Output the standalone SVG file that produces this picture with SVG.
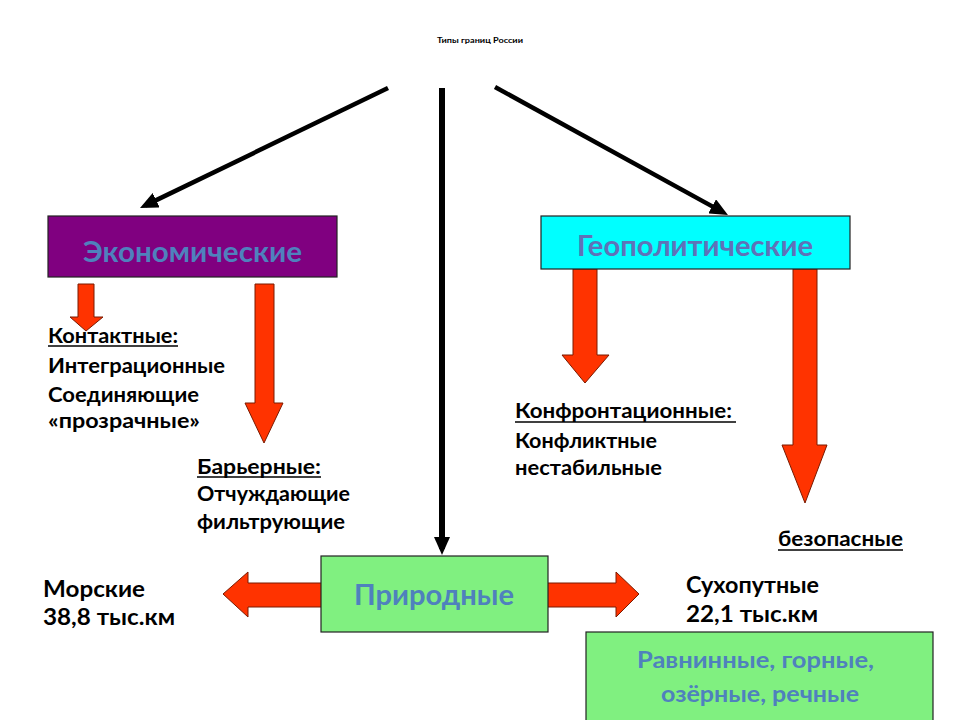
<svg xmlns="http://www.w3.org/2000/svg" width="960" height="720" viewBox="0 0 960 720">
<defs>
<marker id="ah" viewBox="0 0 18 16" refX="12" refY="8" markerWidth="18" markerHeight="16" markerUnits="userSpaceOnUse" orient="auto">
<path d="M0,0 L18,8 L0,16 z" fill="#000"/>
</marker>
</defs>
<style>
text{font-family:Lato,"Liberation Sans","Noto Sans",sans-serif;font-weight:bold}
.t{font-size:20px;fill:#000}
.m{font-size:22px;fill:#000}
.big{font-size:28px;fill:#4F81BD;text-anchor:middle}
.sub{font-size:22px;fill:#4F81BD;text-anchor:middle}
.box{stroke:#222;stroke-width:1.2}
.red{fill:#FF3300;stroke:#7a1a00;stroke-width:1}
.ul{stroke:#000;stroke-width:1.6}
.con{stroke:#000;fill:none;marker-end:url(#ah)}
</style>
<rect width="960" height="720" fill="#fff"/>
<text x="480" y="43" font-size="8" text-anchor="middle" textLength="86" lengthAdjust="spacingAndGlyphs">Типы границ России</text>
<g id="connectors">
<line class="con" x1="388" y1="88" x2="145.4" y2="205.4" stroke-width="4.5"/>
<line class="con" x1="442" y1="88" x2="442" y2="549" stroke-width="6"/>
<line class="con" x1="495" y1="87" x2="722.7" y2="212.1" stroke-width="4.5"/>
<polygon class="red" points="78,284 94,284 94,317 103,317 86,331 70,317 78,317"/>
<polygon class="red" points="255,284 274,284 274,403 283,403 264,443 245,403 255,403"/>
<polygon class="red" points="573,269 597,269 597,355 609,355 585,383 562,355 573,355"/>
<polygon class="red" points="793,269 817,269 817,445 827,445 805,503 782,445 793,445"/>
<polygon class="red" points="322,583 248,583 248,572 223,594 248,617 248,607 322,607"/>
<polygon class="red" points="547,583 616,583 616,572 639,594 616,617 616,607 547,607"/>
</g>
<g id="node-econ">
<rect class="box" x="48" y="216" width="289" height="61" fill="#800080"/>
<text class="big" x="192.5" y="262" textLength="219" lengthAdjust="spacingAndGlyphs">Экономические</text>
</g>
<g id="node-geo">
<rect class="box" x="541" y="216" width="309" height="53" fill="#00FFFF"/>
<text class="big" x="695" y="256" style="fill:#5F72B8" textLength="236" lengthAdjust="spacingAndGlyphs">Геополитические</text>
</g>
<g id="node-nature">
<rect class="box" x="321" y="556" width="227" height="76" fill="#80F080"/>
<text class="big" x="434" y="605" textLength="160" lengthAdjust="spacingAndGlyphs">Природные</text>
</g>
<g id="node-land-types">
<rect class="box" x="586" y="632" width="347" height="100" fill="#80F080"/>
<text class="sub" x="755.5" y="668" textLength="237" lengthAdjust="spacingAndGlyphs">Равнинные, горные,</text>
<text class="sub" x="760" y="702" textLength="198" lengthAdjust="spacingAndGlyphs">озёрные, речные</text>
</g>
<g id="node-contact">
<text class="t" x="48" y="343" textLength="130" lengthAdjust="spacingAndGlyphs">Контактные:</text>
<line class="ul" x1="48" y1="346" x2="178" y2="346"/>
<text class="t" x="48" y="373" textLength="177" lengthAdjust="spacingAndGlyphs">Интеграционные</text>
<text class="t" x="48" y="402" textLength="151" lengthAdjust="spacingAndGlyphs">Соединяющие</text>
<text class="t" x="48" y="428" textLength="152" lengthAdjust="spacingAndGlyphs">«прозрачные»</text>
</g>
<g id="node-barrier">
<text class="t" x="197" y="474" textLength="124" lengthAdjust="spacingAndGlyphs">Барьерные:</text>
<line class="ul" x1="197" y1="477" x2="321" y2="477"/>
<text class="t" x="197" y="501" textLength="153" lengthAdjust="spacingAndGlyphs">Отчуждающие</text>
<text class="t" x="197" y="529" textLength="148" lengthAdjust="spacingAndGlyphs">фильтрующие</text>
</g>
<g id="node-confront">
<text class="t" x="515" y="418" textLength="217" lengthAdjust="spacingAndGlyphs">Конфронтационные:</text>
<line class="ul" x1="515" y1="422" x2="736" y2="422"/>
<text class="t" x="515" y="448" textLength="142" lengthAdjust="spacingAndGlyphs">Конфликтные</text>
<text class="t" x="515" y="475" textLength="147" lengthAdjust="spacingAndGlyphs">нестабильные</text>
</g>
<g id="node-safe">
<text class="t" x="778" y="546" textLength="125" lengthAdjust="spacingAndGlyphs">безопасные</text>
<line class="ul" x1="778" y1="550" x2="903" y2="550"/>
</g>
<g id="node-sea">
<text class="m" x="43" y="597" textLength="102" lengthAdjust="spacingAndGlyphs">Морские</text>
<text class="m" x="43" y="625" textLength="132" lengthAdjust="spacingAndGlyphs">38,8 тыс.км</text>
</g>
<g id="node-land">
<text class="m" x="686" y="593" textLength="133" lengthAdjust="spacingAndGlyphs">Сухопутные</text>
<text class="m" x="686" y="622" textLength="132" lengthAdjust="spacingAndGlyphs">22,1 тыс.км</text>
</g>
</svg>
